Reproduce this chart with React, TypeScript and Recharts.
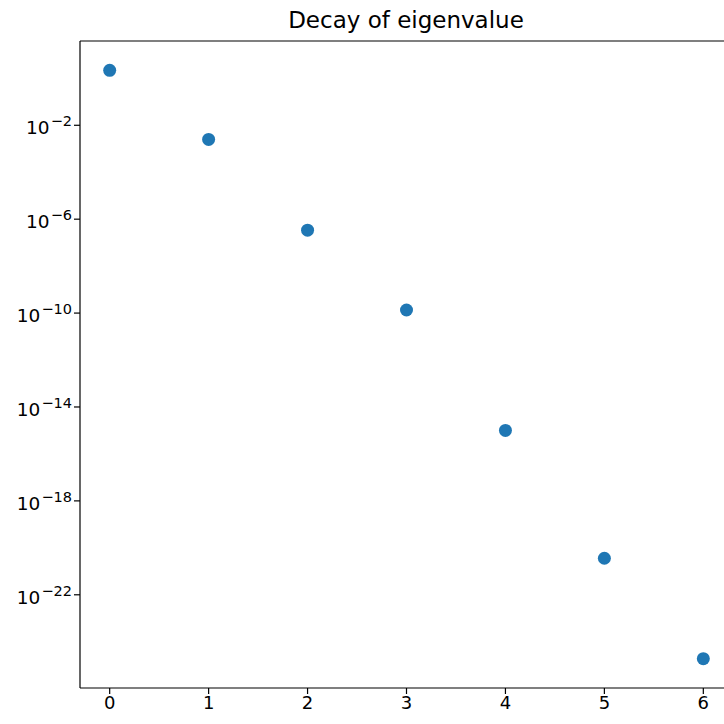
import React from "react";
import { ScatterChart, Scatter, XAxis, YAxis, ReferenceLine } from "recharts";

// eigenvalue index and magnitude
const indices = [0, 1, 2, 3, 4, 5, 6];
const eigenvalues = [2.2, 2.5e-3, 3.4e-7, 1.35e-10, 1.0e-15, 3.6e-21, 1.9e-25];
const xTicks = [0, 1, 2, 3, 4, 5, 6];
const yTicks = [1e-22, 1e-18, 1e-14, 1e-10, 1e-6, 1e-2];
const yDomain = [1.07e-26, 38.9];

const data = indices.map((i, k) => ({ x: i, y: eigenvalues[k] }));

const FONT = "DejaVu Sans, sans-serif";
const BLUE = "#1f77b4";

function PowTick(props: any) {
  const { x, y, payload } = props;
  const exp = Math.round(Math.log10(payload.value));
  return (
    <text x={x} y={y + 9} textAnchor="end" fontFamily={FONT} fill="#000">
      <tspan fontSize={18.5}>10</tspan>
      <tspan fontSize={14.5} dx={1} dy={-8}>{"\u2212" + Math.abs(exp)}</tspan>
    </text>
  );
}

function XTick(props: any) {
  const { x, y, payload } = props;
  return (
    <text x={x} y={y + 13} textAnchor="middle" fontFamily={FONT} fontSize={18} fill="#000">
      {payload.value}
    </text>
  );
}

function Dot(props: any) {
  const { cx, cy } = props;
  return <circle cx={cx} cy={cy} r={6.5} fill={BLUE} />;
}

export default function App() {
  return (
    <div style={{ position: "fixed", left: 0, top: 0, width: 724, height: 724, overflow: "hidden", background: "#fff" }}>
      <svg width={724} height={40} style={{ position: "absolute", left: 0, top: 0 }}>
        <text x={406} y={28} textAnchor="middle" fontFamily={FONT} fontSize={23} fill="#000">
          Decay of eigenvalue
        </text>
      </svg>
      <ScatterChart width={745} height={724} margin={{ top: 41, right: 12, bottom: 6, left: 0 }}>
        <XAxis
          type="number"
          dataKey="x"
          domain={[-0.3, 6.3]}
          allowDataOverflow
          ticks={xTicks}
          tickSize={6}
          height={30}
          axisLine={{ stroke: "#000", strokeWidth: 1.2 }}
          tickLine={{ stroke: "#000", strokeWidth: 1.2 }}
          tick={<XTick />}
        />
        <YAxis
          type="number"
          dataKey="y"
          scale="log"
          domain={yDomain}
          allowDataOverflow
          ticks={yTicks}
          width={80}
          tickSize={6}
          axisLine={{ stroke: "#000", strokeWidth: 1.2 }}
          tickLine={{ stroke: "#000", strokeWidth: 1.2 }}
          tick={<PowTick />}
        />
        <ReferenceLine y={yDomain[1]} stroke="#000" strokeWidth={1.2} ifOverflow="extendDomain" />
        <Scatter data={data} fill={BLUE} shape={<Dot />} isAnimationActive={false} />
      </ScatterChart>
    </div>
  );
}
